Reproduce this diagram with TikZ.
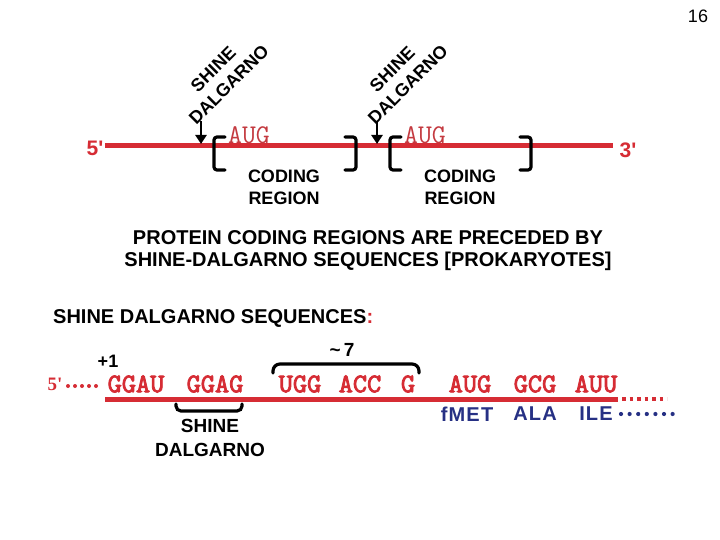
\documentclass[tikz,border=0pt]{standalone}
\usepackage{fontspec}
\setmainfont{Liberation Sans}
\newfontfamily\serifb{Liberation Serif}
\newfontfamily\seqfont{lmmono10-regular.otf}[FakeBold=3]
\usetikzlibrary{arrows.meta}
\definecolor{rnared}{RGB}{214,44,52}
\definecolor{augred}{RGB}{196,58,64}
\definecolor{aablue}{RGB}{38,48,132}
\newcommand{\fsz}[2]{\fontsize{#1}{#2}\selectfont}

\begin{document}
\begin{tikzpicture}[x=1pt, y=-1pt,
    lbl/.style = {font=\bfseries\fsz{18}{22}, align=center, inner sep=0pt},
    sd/.style = {font=\bfseries\fsz{18}{22}, align=center, inner sep=0pt, rotate=45},
    endlbl/.style = {font=\bfseries\fsz{21}{21}, text=rnared, inner sep=0pt},
    aug/.style = {font=\ttfamily\fsz{27}{27}\addfontfeature{FakeBold=1}, text=augred, inner sep=0pt},
    seq/.style = {font=\seqfont\fsz{27}{27}, text=rnared, inner sep=0pt},
    aa/.style = {font=\bfseries\fsz{20}{20}\addfontfeature{LetterSpace=6}, text=aablue, inner sep=0pt},
    strand/.style = {rnared, line width=5pt},
    brk/.style = {line width=3.2pt, rounded corners=3pt, line cap=round},
    dnarrow/.style = {line width=2.8pt, -{Triangle[width=11pt,length=9pt]}}]

    \fill[white] (0,0) rectangle (720,540);
    \useasboundingbox (0,0) rectangle (720,540);

    \node[font=\fsz{18}{18}, inner sep=0pt] (pg) at (698,16) {16};

    %--------------------------------------------

    \node[endlbl] (p5) at (95,148) {5\textquotesingle};
    \node[endlbl] (p3) at (628,150) {3\textquotesingle};
    \coordinate (t0) at (105,146);
    \coordinate (t1) at (613,146);
    \draw[strand] (t0) -- (t1);

    \node[sd] (sd1) at (221,77) {SHINE\\DALGARNO};
    \node[sd] (sd2) at (400,77) {SHINE\\DALGARNO};
    \coordinate (a1) at (201,121);
    \coordinate (b1) at (201,144);
    \coordinate (a2) at (377,121);
    \coordinate (b2) at (377,144);
    \draw[dnarrow] (a1) -- (b1);
    \draw[dnarrow] (a2) -- (b2);

    \draw[brk] (225,137) -- (214,137) -- (214,170) -- (225,170);
    \draw[brk] (345,137) -- (356,137) -- (356,170) -- (345,170);
    \draw[brk] (401,137) -- (390,137) -- (390,170) -- (401,170);
    \draw[brk] (520,137) -- (531,137) -- (531,170) -- (520,170);

    \node[aug] (aug1) at (249,135) {AUG};
    \node[aug] (aug2) at (425,135) {AUG};
    \node[lbl] (cr1) at (284,187) {CODING\\REGION};
    \node[lbl] (cr2) at (460,187) {CODING\\REGION};

    %--------------------------------------------

    \node[font=\bfseries\fsz{20}{22}, align=center, inner sep=0pt] (hd) at (368,251)
        {PROTEIN CODING REGIONS ARE PRECEDED BY\\SHINE-DALGARNO SEQUENCES [PROKARYOTES]};

    \node[font=\bfseries\fsz{20}{20}, anchor=west, inner sep=0pt] (sq) at (53,318)
        {SHINE DALGARNO SEQUENCES{\color{rnared}:}};

    %--------------------------------------------

    \node[font=\bfseries\fsz{18}{18}, inner sep=0pt] (plus1) at (108,361) {+1};
    \node[font=\bfseries\fsz{19}{19}, inner sep=0pt] (sev) at (342,350) {\textasciitilde\,7};

    \node[font=\serifb\bfseries\fsz{19}{19}, text=rnared, inner sep=0pt] (q5) at (55,384) {5\textquotesingle};
    \draw[rnared, line width=4pt, line cap=round, dash pattern=on 0pt off 7pt] (68,386) -- (100,386);

    \node[seq] (c1) at (136,384) {GGAU};
    \node[seq] (c2) at (215,384) {GGAG};
    \node[seq] (c3) at (300,384) {UGG};
    \node[seq] (c4) at (360,384) {ACC};
    \node[seq] (c5) at (408,384) {G};
    \node[seq] (c6) at (470,384) {AUG};
    \node[seq] (c7) at (535,384) {GCG};
    \node[seq] (c8) at (596,384) {AUU};

    \coordinate (m0) at (105,399);
    \coordinate (m1) at (618,399);
    \draw[strand] (m0) -- (m1);
    \draw[rnared, line width=4pt, dash pattern=on 3.5pt off 4pt] (622,399) -- (667,399);

    \draw[brk, rounded corners=7pt] (273,373) -- (273,364) -- (419,364) -- (419,373);
    \draw[brk, rounded corners=5pt] (176,404) -- (176,411) -- (242,411) -- (242,404);

    \node[aa] (aa1) at (467,414) {fMET};
    \node[aa] (aa2) at (535,414) {ALA};
    \node[aa] (aa3) at (596,414) {ILE};
    \draw[aablue, line width=4.2pt, line cap=round, dash pattern=on 0pt off 8.6pt] (621,414) -- (673,414);

    \node[font=\bfseries\fsz{19}{24}, align=center, inner sep=0pt] (sdl) at (210,438) {SHINE\\DALGARNO};

\end{tikzpicture}
\end{document}
